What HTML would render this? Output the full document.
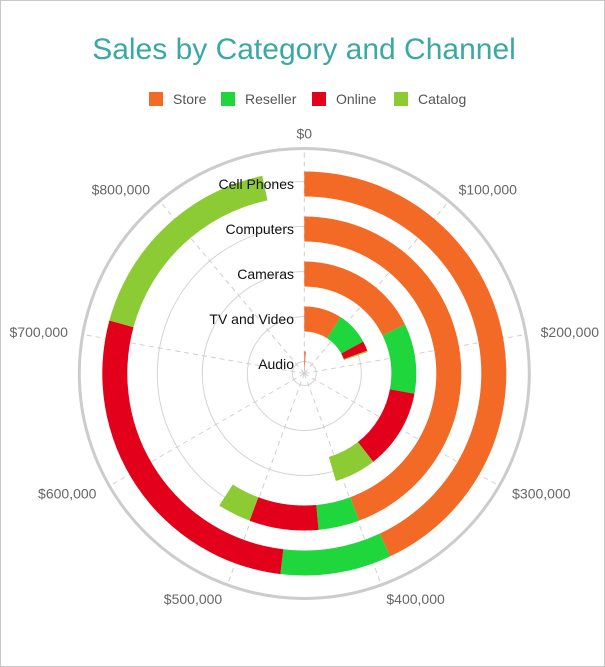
<!DOCTYPE html>
<html><head><meta charset="utf-8"><style>
html,body{margin:0;padding:0;background:#fff}
#wrap{position:relative;width:603px;height:665px;border:1px solid #c8c8c8;overflow:hidden}
svg{position:absolute;left:0;top:0}
</style></head><body>
<div id="wrap">
<svg id="chart" width="605" height="667" font-family="'Liberation Sans', sans-serif">
<text x="303" y="58" text-anchor="middle" font-size="30" fill="#3aa8a5">Sales by Category and Channel</text>
<g id="legend"></g>
<g id="grid"></g>
<g id="bars"></g>
<g id="labels"></g>
</svg>
</div>
<script>
const categories = ["Cell Phones","Computers","Cameras","TV and Video","Audio"];
const seriesNames = ["Store","Reseller","Online","Catalog"];
const store    = [387000, 399000, 160000, 82000, 8000];
const reseller = [80000, 38000, 91000, 72000, 0];
const online   = [246000, 64000, 104000, 21000, 2000];
const catalog  = [157000, 31000, 54000, 3000, 0];
const tickValues = [0,100000,200000,300000,400000,500000,600000,700000,800000];
const tickLabels = ["$0","$100,000","$200,000","$300,000","$400,000","$500,000","$600,000","$700,000","$800,000"];
const maxValue = 900000;

const colors = ["#f26a26","#1fd63c","#e2001a","#8dcb35"];
const NS="http://www.w3.org/2000/svg";
const cx=303.3, cy=372.5, R=225;
function ang(v){return v/maxValue*2*Math.PI;}
function pt(v,r){const a=ang(v);return [cx+r*Math.sin(a), cy-r*Math.cos(a)];}
function mk(tag,attrs,parent){const e=document.createElementNS(NS,tag);for(const k in attrs)e.setAttribute(k,attrs[k]);parent.appendChild(e);return e;}
// band radii from category index
function bandOuter(i){return 202 - i*45;}
function bandInner(i){return i===4?3:bandOuter(i)-25;}

const grid=document.getElementById('grid');
[12,57,102,147,192].forEach(r=>{
  const c=mk('circle',{cx:cx,cy:cy,r:r,fill:'none',stroke:'#d4d4d4','stroke-width':1},grid);
  
  
});
const outer=mk('circle',{cx:cx,cy:cy,r:R,fill:'none',stroke:'#cccccc','stroke-width':3},grid);


tickValues.forEach((v,i)=>{
  const p1=pt(v,0),p2=pt(v,R);
  const l=mk('line',{x1:p1[0],y1:p1[1],x2:p2[0],y2:p2[1],stroke:'#cfcfcf','stroke-dasharray':'5,4','stroke-width':1},grid);
  
  
  const p=pt(v,240);const s=Math.sin(ang(v));
  const t=mk('text',{x:p[0],y:p[1]+5,'font-size':14,fill:'#666','text-anchor':s>0.1?'start':(s<-0.1?'end':'middle')},grid);
  t.textContent=tickLabels[i];
  
  
});

const bars=document.getElementById('bars');
const series=[store,reseller,online,catalog];
function arc(v0,v1,ri,ro){
  const large=(ang(v1)-ang(v0))>Math.PI?1:0;
  const a=pt(v0,ro),b=pt(v1,ro),c=pt(v1,ri),d=pt(v0,ri);
  return `M${a[0]},${a[1]} A${ro},${ro} 0 ${large} 1 ${b[0]},${b[1]} L${c[0]},${c[1]} A${ri},${ri} 0 ${large} 0 ${d[0]},${d[1]} Z`;
}
categories.forEach((cat,i)=>{
  let acc=0;
  series.forEach((s,j)=>{
    const v=s[i]; if(v<=0)return;
    const p=mk('path',{d:arc(acc,acc+v,bandInner(i),bandOuter(i)),fill:colors[j]},bars);
    
    
    acc+=v;
  });
});

const labels=document.getElementById('labels');
categories.forEach((cat,i)=>{
  const r=(bandOuter(i)+ (i===4?bandOuter(i)-25:bandInner(i)))/2;
  const t=mk('text',{x:293,y:cy-r+5,'font-size':14,fill:'#111','text-anchor':'end'},labels);
  t.textContent=cat;
  
  
});

const legend=document.getElementById('legend');
const lx=[148,220,311,393];
seriesNames.forEach((n,j)=>{
  const g=mk('g',{},legend);
  
  
  mk('rect',{x:lx[j],y:91,width:14,height:14,fill:colors[j]},g);
  const t=mk('text',{x:lx[j]+24,y:103,'font-size':14,fill:'#555'},g);
  t.textContent=n;
});
</script>
</body></html>
